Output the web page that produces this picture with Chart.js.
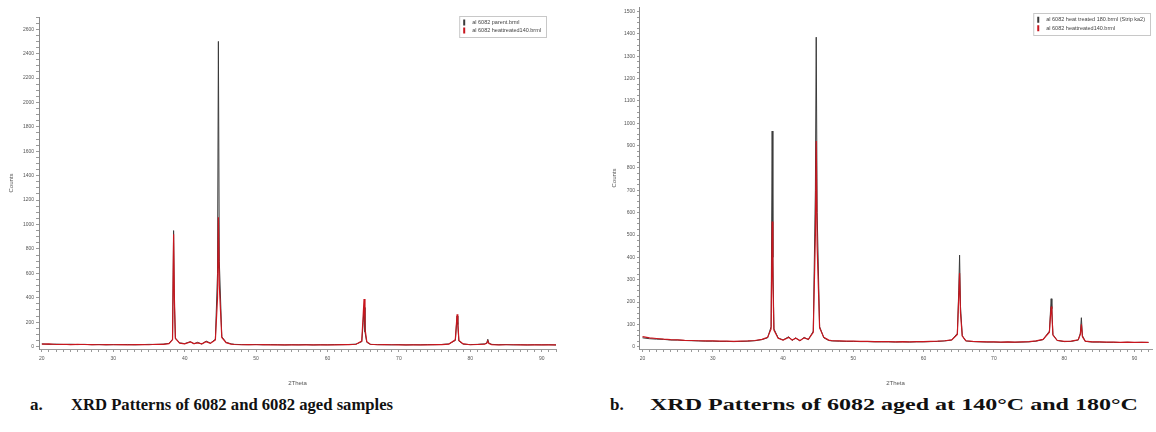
<!DOCTYPE html>
<html><head><meta charset="utf-8">
<script src="https://cdn.jsdelivr.net/npm/chart.js@4.4.0/dist/chart.umd.min.js"></script>
<style>
html,body{margin:0;padding:0;background:#fff;}
body{width:1156px;height:432px;position:relative;overflow:hidden;}
canvas{position:absolute;top:0;}
#ca{left:0;}
#cb{left:600px;}
.cap{position:absolute;top:395px;line-height:20px;font-family:"Liberation Serif","Times New Roman",serif;font-weight:bold;font-size:17px;color:#111;white-space:pre;transform-origin:0 50%;}
</style></head>
<body>
<canvas id="ca" width="560" height="392"></canvas>
<canvas id="cb" width="556" height="392"></canvas>
<div class="cap" style="left:30px">a.</div>
<div class="cap" id="capA" style="left:71px">XRD Patterns of 6082 and 6082 aged samples</div>
<div class="cap" style="left:610px">b.</div>
<div class="cap" id="capB" style="left:650px">XRD Patterns of 6082 aged at 140°C and 180°C</div>
<script>
// ---- shared 2Theta sample positions (degrees) ----
const theta = [20,21,22,23,24,25,26,27,28,29,30,31,32,33,34,35,36,37,
  37.8,38.3,38.45,38.55,38.7,39.3,
  40,40.8,41.3,41.8,42.4,43,43.6,44.3,44.6,44.72,44.85,45.2,45.8,46.5,
  47,48,49,50,51,52,53,54,55,56,57,58,59,60,61,62,63,64,
  64.8,65.0,65.12,65.25,65.5,
  66,67,68,69,70,71,72,73,74,75,76,77,
  77.9,78.15,78.25,78.4,
  79,80,81,82,
  82.3,82.45,82.6,
  83,84,85,86,87,88,89,90,91,92];

// ---- chart a ----
const labelsA = ["al 6082 parent.brml", "al 6082 heattreated140.brml"];
const parentA = [22,18,20,17,19,16,18,15,17,14,16,15,17,14,16,18,17,20,
  26,60,950,380,70,30,
  24,40,22,35,20,45,28,60,600,2500,700,80,35,22,
  18,16,15,17,14,16,15,13,15,14,16,13,15,14,16,15,17,20,
  40,200,320,120,35,
  18,16,15,14,16,13,15,14,16,15,17,22,
  50,250,180,45,
  20,16,18,22,
  30,60,28,
  18,15,16,14,15,13,15,14,15,13];
const aged140A = [20,22,17,19,16,18,17,16,15,17,15,16,14,16,17,15,19,18,
  24,55,920,420,65,28,
  22,38,24,30,22,40,26,55,400,1060,500,75,32,20,
  17,15,16,15,16,14,15,14,13,15,14,15,14,15,14,16,16,19,
  45,260,390,150,40,
  19,15,16,15,14,15,14,15,14,16,16,20,
  55,265,200,50,
  22,15,17,20,
  26,45,24,
  16,14,15,15,14,14,13,14,14,13];

// ---- chart b ----
const labelsB = ["al 6082 heat treated 180.brml (Strip ka2)", "al 6082 heattreated140.brml"];
const heat180B = [40,36,34,33,30,30,28,27,26,25,25,24,24,23,24,25,27,32,
  40,90,965,400,80,40,
  30,45,28,40,26,42,32,70,700,1385,600,90,40,28,
  26,25,24,24,23,23,22,22,22,21,22,21,22,22,23,24,26,30,
  60,250,410,180,50,
  26,23,22,21,21,20,21,20,21,22,25,32,
  70,215,170,55,
  28,23,24,30,
  60,130,50,
  24,21,21,20,20,19,20,19,20,19];
const aged140B = [45,40,37,34,32,31,29,28,27,26,26,25,25,24,25,26,28,33,
  42,80,560,300,75,38,
  30,42,30,38,28,40,33,65,500,920,450,85,42,30,
  27,26,25,25,24,24,23,23,23,22,23,22,23,23,24,25,27,31,
  55,220,330,150,48,
  27,24,23,22,22,21,22,21,22,23,26,33,
  65,180,150,52,
  29,24,25,31,
  55,100,45,
  25,22,22,21,21,20,21,20,20,20];

const BLACK = '#3a3a3a', RED = '#c8161e';
const pts = (ys) => theta.map((t, i) => ({x: t, y: ys[i]}));

const boxLegend = {
  id: 'boxLegend',
  afterDraw(chart, args, o) {
    const ctx = chart.ctx;
    ctx.save();
    ctx.font = o.size + 'px "Liberation Sans", Arial, sans-serif';
    const ds = chart.data.datasets;
    let tw = 0;
    ds.forEach(d => { tw = Math.max(tw, ctx.measureText(d.label).width); });
    const w = tw + 18, h = ds.length * o.row + 5;
    const x0 = o.right - w, y0 = o.top;
    ctx.fillStyle = '#fff';
    ctx.fillRect(x0, y0, w, h);
    ctx.strokeStyle = '#c8c8c8';
    ctx.lineWidth = 1;
    ctx.strokeRect(x0 + 0.5, y0 + 0.5, w, h);
    ds.forEach((d, i) => {
      const cy = y0 + 2.5 + o.row * (i + 0.5);
      ctx.fillStyle = d.borderColor;
      ctx.fillRect(x0 + 4, cy - 3, 2, 6);
      ctx.fillStyle = '#444';
      ctx.textBaseline = 'middle';
      ctx.fillText(d.label, x0 + 13, cy);
    });
    ctx.restore();
  }
};

function makeChart(id, labels, s1, s2, yMin, yMax, yStep, yLabelEvery, xMin, xMax, legendOpts, yTickLen) {
  return new Chart(document.getElementById(id), {
    type: 'line',
    data: {
      datasets: [
        {label: labels[0], data: pts(s1), borderColor: BLACK, backgroundColor: BLACK, borderWidth: 1, pointRadius: 0, tension: 0, order: 1},
        {label: labels[1], data: pts(s2), borderColor: RED, backgroundColor: RED, borderWidth: 1.2, pointRadius: 0, tension: 0, order: 0}
      ]
    },
    options: {
      responsive: false,
      animation: false,
      layout: {padding: {top: legendOpts.padTop, right: 4, left: 0, bottom: 0}},
      plugins: {legend: {display: false}, tooltip: {enabled: false}, boxLegend: legendOpts},
      scales: {
        x: {
          type: 'linear', min: xMin, max: xMax,
          afterBuildTicks: s => { s.ticks = []; for (let v = 20; v <= Math.floor(xMax); v++) s.ticks.push({value: v}); },
          afterFit: s => { s.height = 43; },
          ticks: {autoSkip: false, maxRotation: 0, padding: 4, color: '#555',
                  font: {size: 5, family: '"Liberation Sans", Arial'},
                  callback: v => (v % 10 === 0 ? String(v) : '')},
          grid: {drawOnChartArea: false, drawTicks: true, tickLength: 3, color: '#9a9a9a'},
          border: {display: true, color: '#9a9a9a'},
          title: {display: true, text: '2Theta', color: '#555', font: {size: 6, family: '"Liberation Sans", Arial'}, padding: {top: 0, bottom: 5}}
        },
        y: {
          type: 'linear', min: yMin, max: yMax,
          afterBuildTicks: s => { s.ticks = []; for (let v = 0; v <= yMax; v += yStep) s.ticks.push({value: v}); },
          afterFit: s => { s.width = 39; },
          ticks: {autoSkip: false, padding: 2, color: '#555',
                  font: {size: 5, family: '"Liberation Sans", Arial'},
                  callback: v => (v % yLabelEvery === 0 ? String(v) : '')},
          grid: {drawOnChartArea: false, drawTicks: true, tickLength: yTickLen, color: '#9a9a9a'},
          border: {display: true, color: '#8a8a8a'},
          title: {display: true, text: 'Counts', color: '#555', font: {size: 6, family: '"Liberation Sans", Arial'}, padding: {top: legendOpts.titlePad, bottom: 0}}
        }
      }
    },
    plugins: [boxLegend]
  });
}

makeChart('ca', labelsA, parentA, aged140A, -20, 2700, 50, 200, 19.6, 92, {right: 546, top: 16, row: 8, size: 5.5, padTop: 17, titlePad: 8}, 3);
makeChart('cb', labelsB, heat180B, aged140B, -10, 1520, 25, 100, 19.5, 92.5, {right: 550, top: 13, row: 8.5, size: 5.5, padTop: 7, titlePad: 11}, 2);

function fitWidth(id, target) {
  const el = document.getElementById(id);
  const w = el.getBoundingClientRect().width;
  el.style.transform = 'scaleX(' + (target / w) + ')';
}
fitWidth('capA', 322);
fitWidth('capB', 488);
</script>
</body></html>
